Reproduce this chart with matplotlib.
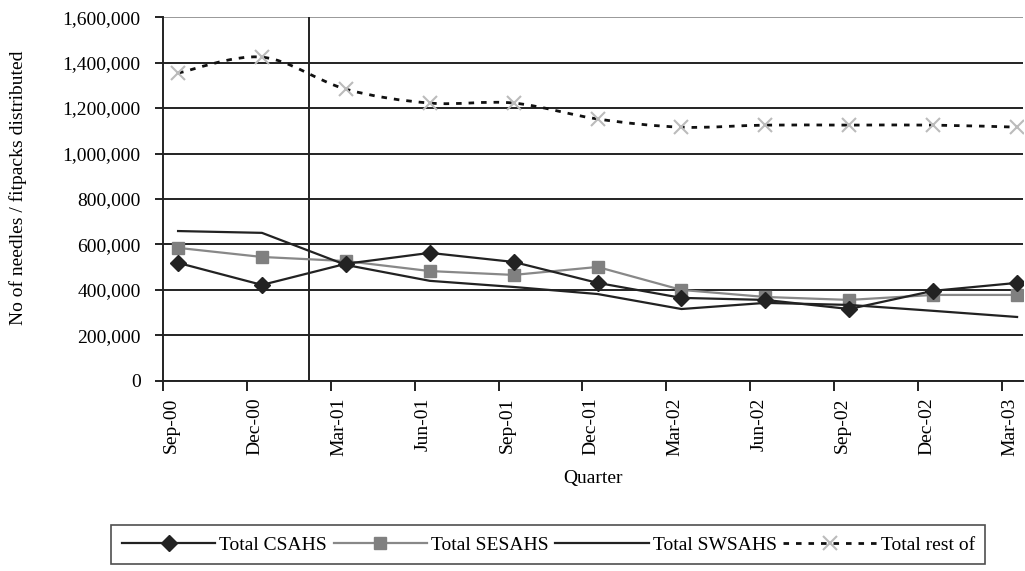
import matplotlib.pyplot as plt
import numpy as np
from matplotlib.path import Path
from matplotlib.patches import PathPatch

plt.rcParams['font.family'] = ['Liberation Serif', 'DejaVu Serif']

quarters = ["Sep-00", "Dec-00", "Mar-01", "Jun-01", "Sep-01", "Dec-01",
            "Mar-02", "Jun-02", "Sep-02", "Dec-02", "Mar-03"]
csahs = [519000, 422000, 515000, 563000, 523000, 431000, 365000, 356000, 316000, 396000, 431000]
sesahs = [585000, 545000, 527000, 483000, 466000, 501000, 400000, 369000, 356000, 378000, 378000]
swsahs = [659000, 651000, 510000, 440000, 413000, 382000, 316000, 343000, 334000, 308000, 281000]
rest = [1354000, 1424000, 1283000, 1222000, 1222000, 1152000, 1116000, 1125000, 1125000, 1125000, 1116000]
yticks = [0, 200000, 400000, 600000, 800000, 1000000, 1200000, 1400000, 1600000]

x = np.arange(len(quarters))

fig = plt.figure(figsize=(10.25, 5.71), dpi=100)
ax = fig.add_axes([0.159, 0.333, 0.839, 0.637])

# gridlines
for v in yticks[:-1]:
    ax.axhline(v, color='#222222', lw=1.4, zorder=1)
ax.axhline(1600000, color='#999999', lw=1.4, zorder=1)

# separator line
ax.axvline(1.56, color='#222222', lw=1.4, zorder=1)

ax.plot(x, csahs, color='#222222', lw=1.6, marker='D', ms=8, mfc='#222222', mec='#222222',
        label='Total CSAHS', zorder=4)
ax.plot(x, sesahs, color='#888888', lw=1.6, marker='s', ms=9, mfc='#808080', mec='#808080',
        label='Total SESAHS', zorder=3)
ax.plot(x, swsahs, color='#222222', lw=1.6, label='Total SWSAHS', zorder=3)

# smoothed line for "rest of" (bezier through the points)
px = np.array(x, dtype=float)
py = np.array(rest, dtype=float)
verts = [(px[0], py[0])]
codes = [Path.MOVETO]
n = len(px)
for i in range(n - 1):
    p0 = i - 1 if i > 0 else i
    p3 = i + 2 if i + 2 < n else i + 1
    c1 = (px[i] + (px[i + 1] - px[p0]) / 6, py[i] + (py[i + 1] - py[p0]) / 6)
    c2 = (px[i + 1] - (px[p3] - px[i]) / 6, py[i + 1] - (py[p3] - py[i]) / 6)
    verts += [c1, c2, (px[i + 1], py[i + 1])]
    codes += [Path.CURVE4] * 3
ax.add_patch(PathPatch(Path(verts, codes), fill=False, edgecolor='#111111', lw=2,
                       linestyle=(0, (2, 2.5)), zorder=3))
ax.plot(x, rest, linestyle='none', marker='x', ms=10, mew=1.5, color='#bbbbbb', zorder=4)
rest_handle, = ax.plot([], [], color='#111111', lw=2, linestyle=(0, (2, 2.5)), marker='x',
                       ms=10, mew=1.5, mec='#bbbbbb', label='Total rest of')

ax.set_ylim(0, 1600000)
ax.set_xlim(-0.18, 10.07)
ax.set_yticks(yticks)
ax.set_yticklabels(['{:,}'.format(v) for v in yticks], fontsize=14)
ax.set_xticks(x - 0.18, minor=True)
ax.set_xticks(x - 0.08)
ax.set_xticklabels(quarters, rotation=90, fontsize=14)
ax.tick_params(axis='x', which='major', length=0, pad=12)
ax.tick_params(axis='x', which='minor', length=7, width=1.4, color='#222222')
ax.tick_params(axis='y', length=6, width=1.4, color='#222222', pad=10)

for s in ['top', 'right']:
    ax.spines[s].set_visible(False)
ax.spines['left'].set_linewidth(1.4)
ax.spines['bottom'].set_linewidth(1.4)
ax.spines['left'].set_color('#222222')
ax.spines['bottom'].set_color('#222222')

ax.set_ylabel('No of needles / fitpacks distributed', fontsize=14)
ax.yaxis.set_label_coords(-0.158, 0.53)
ax.set_xlabel('Quarter', fontsize=14, labelpad=10)

leg = fig.legend(loc='center', bbox_to_anchor=(0.535, 0.046), ncol=4, fontsize=14,
                 frameon=True, fancybox=False, edgecolor='#222222', handlelength=4.8,
                 handletextpad=0.2, columnspacing=0.35, borderpad=0.55, borderaxespad=0)
leg.get_frame().set_linewidth(1.2)

plt.savefig('out.png', dpi=100)
